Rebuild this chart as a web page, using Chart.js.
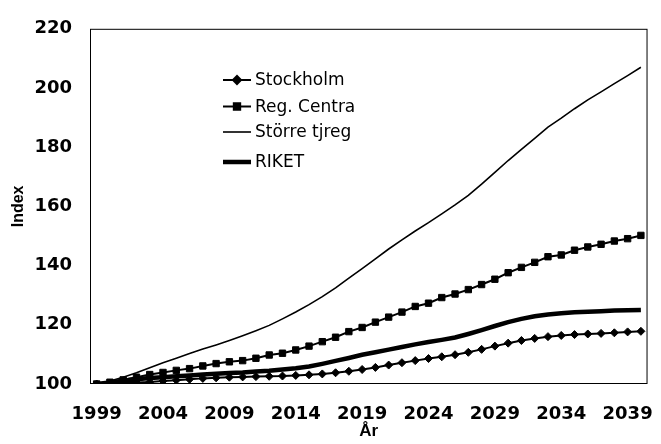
<!DOCTYPE html>
<html>
<head>
<meta charset="utf-8">
<script src="https://cdn.jsdelivr.net/npm/chart.js@4"></script>
<style>
  html, body { margin: 0; padding: 0; background: #fff; }
  #wrap { width: 661px; height: 444px; }
</style>
</head>
<body>
<div id="wrap"><canvas id="c"></canvas></div>
<script>
"use strict";

const YEARS = [];
for (let y = 1999; y <= 2040; y++) YEARS.push(String(y));

const STOCKHOLM = [100.0, 100.1, 100.3, 100.5, 100.7, 101.0, 101.3, 101.6, 101.9, 102.1,
  102.3, 102.4, 102.5, 102.6, 102.7, 102.9, 103.1, 103.4, 103.8, 104.3,
  104.9, 105.6, 106.4, 107.2, 107.9, 108.6, 109.2, 109.9, 110.7, 111.7,
  112.8, 113.8, 114.7, 115.4, 116.0, 116.4, 116.7, 116.9, 117.1, 117.3,
  117.6, 117.8];
const REG_CENTRA = [100.0, 100.6, 101.4, 102.3, 103.2, 103.9, 104.6, 105.2, 106.1, 106.9,
  107.5, 107.9, 108.7, 109.8, 110.4, 111.5, 112.8, 114.3, 115.8, 117.7,
  119.1, 120.9, 122.6, 124.3, 126.2, 127.3, 129.2, 130.4, 131.9, 133.6,
  135.4, 137.6, 139.4, 141.1, 143.0, 143.6, 145.2, 146.3, 147.2, 148.3,
  149.1, 150.2];
const STORRE_TJREG = [100.0, 101.0, 102.3, 103.8, 105.5, 107.2, 108.7, 110.3, 111.8, 113.2,
  114.7, 116.3, 118.0, 119.8, 122.0, 124.3, 126.8, 129.5, 132.5, 135.8,
  139.0, 142.3, 145.6, 148.7, 151.7, 154.5, 157.5, 160.5, 163.7, 167.5,
  171.5, 175.5, 179.3, 183.0, 186.8, 189.8, 193.0, 196.0, 198.7, 201.5,
  204.2, 207.0];
const RIKET = [100.0, 100.5, 101.1, 101.6, 102.0, 102.3, 102.6, 102.9, 103.2, 103.5,
  103.7, 103.9, 104.2, 104.5, 104.9, 105.3, 105.9, 106.8, 107.8, 108.8,
  109.9, 110.7, 111.6, 112.5, 113.4, 114.2, 114.9, 115.7, 116.9, 118.2,
  119.6, 120.9, 122.0, 122.9, 123.5, 123.9, 124.2, 124.4, 124.6, 124.8,
  124.9, 125.0];

// legend drawn inside the plot, Excel style
const legendInside = {
  id: "legendInside",
  afterDraw(chart) {
    const ctx = chart.ctx;
    const rows = [80, 106.5, 132, 162];
    ctx.save();
    ctx.font = "17px 'DejaVu Sans'";
    ctx.textBaseline = "middle";
    chart.data.datasets.forEach((ds, i) => {
      const y = rows[i];
      ctx.strokeStyle = "#000";
      ctx.lineWidth = ds.borderWidth;
      ctx.beginPath();
      ctx.moveTo(223, y);
      ctx.lineTo(251, y);
      ctx.stroke();
      if (ds.pointRadius > 0) {
        ctx.fillStyle = "#000";
        Chart.helpers.drawPoint(ctx, { pointStyle: ds.pointStyle, radius: ds.pointRadius, borderWidth: 1, rotation: 0 }, 237, y);
      }
      ctx.fillStyle = "#000";
      ctx.fillText(ds.label, 255, y + 1);
    });
    ctx.restore();
  },
};

const plotBox = {
  id: "plotBox",
  beforeDatasetsDraw(chart) {
    const a = chart.chartArea;
    const ctx = chart.ctx;
    ctx.save();
    ctx.strokeStyle = "#000";
    ctx.lineWidth = 1;
    ctx.strokeRect(a.left + 0.5, a.top + 0.5, a.right - a.left - 1, a.bottom - a.top - 1);
    ctx.restore();
  },
};

const tickFont = { family: "'DejaVu Sans'", size: 18, weight: "bold" };

new Chart(document.getElementById("c"), {
  type: "line",
  data: {
    labels: YEARS,
    datasets: [
      { label: "Stockholm", data: STOCKHOLM, borderColor: "#000", backgroundColor: "#000",
        borderWidth: 2, pointStyle: "rectRot", pointRadius: 4, pointBorderWidth: 1 },
      { label: "Reg. Centra", data: REG_CENTRA, borderColor: "#000", backgroundColor: "#000",
        borderWidth: 2, pointStyle: "rect", pointRadius: 4.5, pointBorderWidth: 1 },
      { label: "Större tjreg", data: STORRE_TJREG, borderColor: "#000", backgroundColor: "#000",
        borderWidth: 1.6, pointRadius: 0 },
      { label: "RIKET", data: RIKET, borderColor: "#000", backgroundColor: "#000",
        borderWidth: 4.5, pointRadius: 0 },
    ],
  },
  options: {
    responsive: true,
    maintainAspectRatio: false,
    animation: false,
    layout: { padding: { top: 22, right: 9, left: 0, bottom: 0 } },
    plugins: { legend: { display: false }, tooltip: { enabled: false } },
    scales: {
      x: {
        type: "category",
        offset: true,
        grid: { display: false, drawTicks: false },
        border: { display: false },
        ticks: {
          autoSkip: false, maxRotation: 0, minRotation: 0, padding: 20,
          color: "#000", font: tickFont,
          callback: (v, i) => (i % 5 === 0 ? YEARS[i] : ""),
        },
        title: { display: true, text: "År", color: "#000",
                 font: { family: "'Liberation Sans'", size: 17, weight: "bold" },
                 padding: { top: 0, bottom: 2 } },
        afterFit: (s) => { s.height = 60; },
      },
      y: {
        min: 100, max: 220,
        grid: { display: false, drawTicks: false },
        border: { display: false },
        ticks: { stepSize: 20, padding: 18, color: "#000", font: tickFont },
        title: { display: true, text: "Index", color: "#000",
                 font: { family: "'Liberation Sans'", size: 16, weight: "bold" },
                 padding: { top: 9, bottom: 0 } },
        afterFit: (s) => { s.width = 90; },
      },
    },
  },
  plugins: [plotBox, legendInside],
});
</script>
</body>
</html>
